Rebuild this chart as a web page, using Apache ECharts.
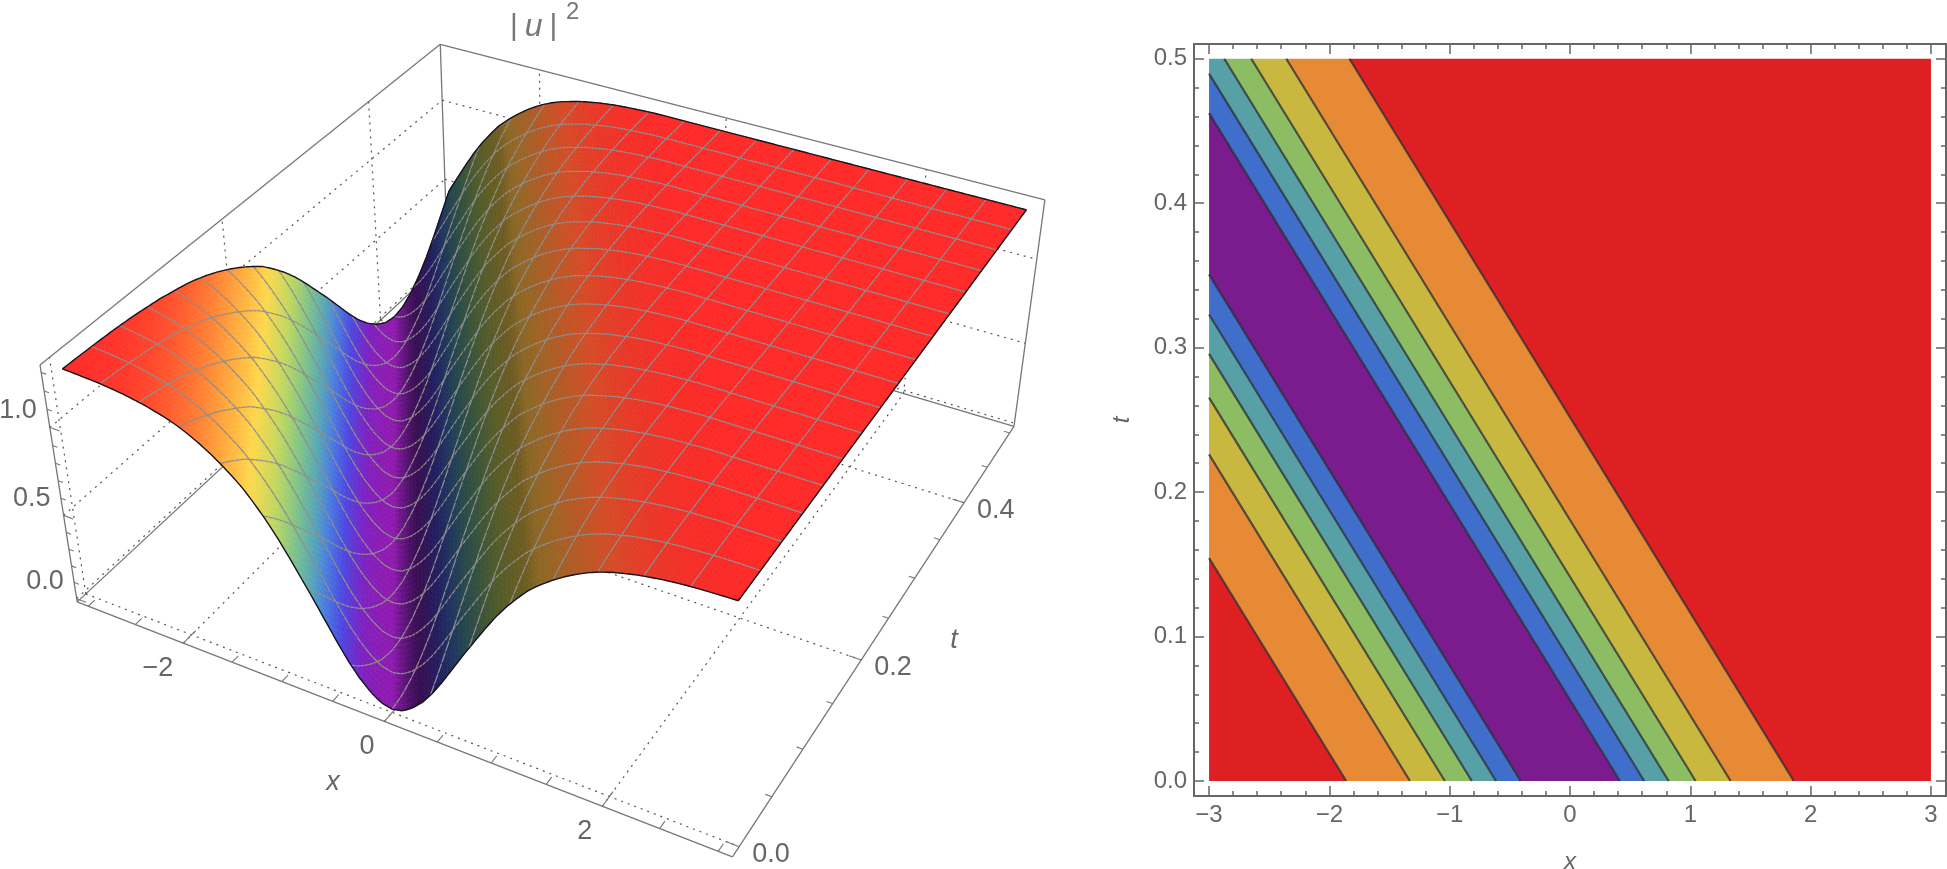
<!DOCTYPE html>
<html><head><meta charset="utf-8">
<style>html,body{margin:0;padding:0;background:#fff}#c{width:1947px;height:869px}</style>
<script src="https://cdn.jsdelivr.net/npm/echarts@6/dist/echarts.min.js"></script>
</head><body><div id="c"></div>
<script>
// ---------- data ----------
// |u|^2 as a function of the travelling coordinate |x + speed*t|
const xiValues=[0,.1,.2,.3,.4,.5,.6,.7,.8,.9,1,1.1,1.2,1.3,1.4,1.5,1.6,1.7,1.8,1.9,2,2.1,2.2,2.3,2.4,2.5,2.6,2.7,2.8,2.9,3,7];
const zValues=[0,.014,.055,.115,.192,.285,.385,.485,.58,.675,.765,.845,.915,.98,1.03,1.075,1.115,1.15,1.18,1.205,1.225,1.24,1.255,1.265,1.275,1.282,1.288,1.292,1.295,1.298,1.3,1.3];
const speed=7.386;
const xMajor=[-2,0,2];
const tMajor=[0,.2,.4];
const zMajor=[0,.5,1];
const xTicks=[-3,-2.5,-2,-1.5,-1,-.5,0,.5,1,1.5,2,2.5,3];
const tTicks=[0,.05,.1,.15,.2,.25,.3,.35,.4,.45,.5];
const zTicks=[0,.1,.2,.3,.4,.5,.6,.7,.8,.9,1,1.1,1.2,1.3];
const colorZ=[0,.1,.25,.4,.5,.65,.8,.95,1.08,1.2,1.3];
const colorHex=['#8f1ab0','#7f20c0','#4c46e2','#4a80de','#55a5b8','#80c488','#c0d860','#ffd84c','#ffa63c','#ff6a30','#ff2a28'];
// contour panel
const contourXi=[-1.86,-1.33,-1.04,-.816,-.615,-.41,.415,.617,.82,1.044,1.335,1.86];
const bandColors=['#df2022','#e68a35','#c8b83f','#8dbd63','#56a0a6','#3f6fcb','#7b1c8e','#3f6fcb','#56a0a6','#8dbd63','#c8b83f','#e68a35','#df2022'];
const xAxisMajor=[-3,-2,-1,0,1,2,3];
const xAxisMinor=[-3,-2.8,-2.6,-2.4,-2.2,-2,-1.8,-1.6,-1.4,-1.2,-1,-.8,-.6,-.4,-.2,0,.2,.4,.6,.8,1,1.2,1.4,1.6,1.8,2,2.2,2.4,2.6,2.8,3];
const tAxisMajor=[0,.1,.2,.3,.4,.5];
const tAxisMinor=[0,.02,.04,.06,.08,.1,.12,.14,.16,.18,.2,.22,.24,.26,.28,.3,.32,.34,.36,.38,.4,.42,.44,.46,.48,.5];
// ---------- box limits and the view of the 3D box ----------
const xLo=-3.12,xHi=3.12,tLo=-.01,tHi=.51,zLo=-.02,zHi=1.34;
const calib=[
 [xLo,tLo,zLo,76.8,601.7],[xLo,tLo,zHi,40.4,365],[xHi,tLo,zLo,732.9,857.3],
 [xHi,tHi,zLo,1015,425.7],[xHi,tHi,zHi,1045,201],[xLo,tHi,zHi,440,43.3],
 [2,.2,zLo,738,618],[2,.4,zLo,849,466.7],[-2,0,zLo,192.9,635],[0,0,zLo,392.9,712.7],[2,0,zLo,609.6,796.7],
 [xLo,tHi,1,442.9,99.3],[xLo,tHi,.5,444.6,181.7],[xHi,tHi,1,1036,260],[xHi,tHi,.5,1026,341.7],[xLo,0,.5,71.4,506.7]];
const nu=(x,t,z)=>[x/3,(t-.25)/.25,(z-.7)/.7];
function solveCamera(){
 const n=11,A=[],b=[];
 calib.forEach(c=>{const [u,v,w]=nu(c[0],c[1],c[2]),X=c[3]/500,Y=c[4]/500;
  A.push([u,v,w,1,0,0,0,0,-X*u,-X*v,-X*w]);b.push(X);
  A.push([0,0,0,0,u,v,w,1,-Y*u,-Y*v,-Y*w]);b.push(Y);});
 const M=[];for(let i=0;i<n;i++){M.push([]);for(let j=0;j<n;j++){let s=0;A.forEach(r=>s+=r[i]*r[j]);M[i].push(s);}let s=0;A.forEach((r,k)=>s+=r[i]*b[k]);M[i].push(s);}
 for(let i=0;i<n;i++){let p=i;for(let k=i+1;k<n;k++)if(Math.abs(M[k][i])>Math.abs(M[p][i]))p=k;[M[i],M[p]]=[M[p],M[i]];
  for(let k=0;k<n;k++){if(k===i)continue;const f=M[k][i]/M[i][i];for(let j=i;j<=n;j++)M[k][j]-=f*M[i][j];}}
 return M.map((r,i)=>r[n]/r[i]);
}
const P=solveCamera();
function proj(x,t,z){const [u,v,w]=nu(x,t,z),d=P[8]*u+P[9]*v+P[10]*w+1;
 return [500*(P[0]*u+P[1]*v+P[2]*w+P[3])/d,500*(P[4]*u+P[5]*v+P[6]*w+P[7])/d];}
function zAt(x,t){const s=Math.abs(x+speed*t);
 for(let k=1;k<xiValues.length;k++)if(s<=xiValues[k]){const f=(s-xiValues[k-1])/(xiValues[k]-xiValues[k-1]);return zValues[k-1]+f*(zValues[k]-zValues[k-1]);}
 return zValues[zValues.length-1];}
const rgb=colorHex.map(h=>[1,3,5].map(i=>parseInt(h.substr(i,2),16)));
function surfaceColor(x,t){
 const z=zAt(x,t),xi=x+speed*t,slope=(zAt(xi+.08,0)-zAt(xi-.08,0))/.16;
 let k=1;while(k<colorZ.length-1&&z>colorZ[k])k++;
 const f=Math.min(1,Math.max(0,(z-colorZ[k-1])/(colorZ[k]-colorZ[k-1])));
 const shade=Math.max(.42,1-.95*Math.max(0,slope));
 const c=[0,1,2].map(i=>Math.round((rgb[k-1][i]+f*(rgb[k][i]-rgb[k-1][i]))*shade));
 return 'rgb('+c+')';}
// ---------- line list for the 3D box ----------
const solid=[],dotted=[],ticks=[];
[[xLo,tLo,zLo,xLo,tLo,zHi],[xLo,tLo,zHi,xLo,tHi,zHi],[xLo,tHi,zHi,xHi,tHi,zHi],[xHi,tHi,zHi,xHi,tHi,zLo],[xHi,tHi,zLo,xHi,tLo,zLo],[xHi,tLo,zLo,xLo,tLo,zLo],[xLo,tLo,zLo,xLo,tHi,zLo],[xLo,tHi,zLo,xHi,tHi,zLo],[xLo,tHi,zLo,xLo,tHi,zHi]].forEach(s=>solid.push(s));
xMajor.forEach(x=>dotted.push([x,tLo,zLo,x,tHi,zLo]));
tMajor.forEach(t=>dotted.push([xLo,t,zLo,xHi,t,zLo]));
zMajor.forEach(z=>{dotted.push([xLo,tLo,z,xLo,tHi,z]);dotted.push([xLo,tHi,z,xHi,tHi,z]);});
tMajor.forEach(t=>dotted.push([xLo,t,zLo,xLo,t,zHi]));
xMajor.forEach(x=>dotted.push([x,tHi,zLo,x,tHi,zHi]));
xTicks.forEach(x=>{const L=xMajor.includes(x)?.015:.0075;ticks.push([x,tLo,zLo,x,tLo+L,zLo]);});
tTicks.forEach(t=>{const L=tMajor.includes(t)?.11:.055;ticks.push([xHi,t,zLo,xHi-L,t,zLo]);});
zTicks.forEach(z=>{const L=zMajor.includes(z)?.1:.05;ticks.push([xLo,tLo,z,xLo+L,tLo,z]);});
const gridLines=[...solid.map(s=>[0,...s]),...dotted.map(s=>[1,...s]),...ticks.map(s=>[2,...s])];
const lineStyles=[{stroke:'#777',lineWidth:1.3},{stroke:'#555',lineWidth:1.2,lineDash:[2,5]},{stroke:'#777',lineWidth:1.1}];
// labels of the 3D box
const labels3d=[];
xMajor.forEach(x=>labels3d.push([String(x).replace('-','−'),proj(x,tLo,zLo),-10,25,'right']));
tMajor.forEach(t=>labels3d.push([t.toFixed(1),proj(xHi,t,zLo),13,8,'left']));
zMajor.forEach(z=>labels3d.push([z.toFixed(1),proj(xLo,tLo,z),-13,-17,'right']));
const axisNames3d=[['x',[333,782]],['t',[954,640]]];
// surface cells
const nx=160,nt=96,meshX=10,meshT=6;
const cellData=[];
for(let j=nt-1;j>=0;j--)for(let i=0;i<nx;i++)cellData.push([i,j]);
const X=i=>-3+6*i/nx,T=j=>.5*j/nt;
const edgeSteps=[];for(let i=0;i<=200;i++)edgeSteps.push(i/200);
const PLOT_W=1100,PLOT_H=869,FF='"Liberation Sans",Arial,sans-serif';
const axStyle={lineStyle:{color:'#666',width:2}};
function frameAxis(kind,pos,grid,values,len,showLabel,range,fmt){
 return Object.assign({type:'value',gridIndex:grid,position:pos,min:range[0],max:range[1],splitLine:{show:false},
  axisLine:Object.assign({show:true,onZero:false},axStyle),
  axisTick:{show:true,inside:true,length:len,lineStyle:{color:'#666',width:1.5},customValues:values},
  axisLabel:showLabel?{show:true,customValues:values,color:'#666',fontSize:24,fontFamily:FF,margin:7,formatter:fmt,hideOverlap:false,showMinLabel:true,showMaxLabel:true}:{show:false}});
}
const xr=[-3.125,3.125],tr=[-.0104,.5102];
const xf=v=>String(v).replace('-','−'),tf=v=>Number(v).toFixed(1);
const chart=echarts.init(document.getElementById('c'),null,{renderer:'canvas'});
chart.setOption({
 animation:false,backgroundColor:'#fff',
 title:[{left:510,top:11,padding:0,text:'{a||}{b|u}{a||}',textStyle:{fontWeight:'normal',rich:{
   a:{fontSize:30,color:'#777',fontWeight:'normal',fontFamily:FF},
   b:{fontSize:32,color:'#777',fontStyle:'italic',fontWeight:'normal',fontFamily:FF,padding:[0,7,0,7]}}}},
  {left:566,top:0,padding:0,text:'2',textStyle:{fontSize:24,color:'#777',fontWeight:'normal',fontFamily:FF}}],
 grid:[{left:0,top:0,width:PLOT_W,height:PLOT_H,show:false,outerBoundsMode:'none'},{left:1194,top:44,width:752,height:752,show:false,outerBoundsMode:'none'}],
 xAxis:[
  {type:'value',gridIndex:0,min:0,max:PLOT_W,show:false},
  Object.assign(frameAxis('x','bottom',1,xAxisMajor,10,true,xr,xf),{name:'x',nameLocation:'middle',nameGap:54,nameTextStyle:{color:'#666',fontSize:24,fontStyle:'italic',fontFamily:FF}}),
  frameAxis('x','bottom',1,xAxisMinor,5,false,xr),
  frameAxis('x','top',1,xAxisMajor,10,false,xr),
  frameAxis('x','top',1,xAxisMinor,5,false,xr)],
 yAxis:[
  {type:'value',gridIndex:0,min:0,max:PLOT_H,inverse:true,show:false},
  Object.assign(frameAxis('y','left',1,tAxisMajor,10,true,tr,tf),{name:'t',nameLocation:'middle',nameGap:60,nameRotate:90,nameTextStyle:{color:'#666',fontSize:24,fontStyle:'italic',fontFamily:FF}}),
  frameAxis('y','left',1,tAxisMinor,5,false,tr),
  frameAxis('y','right',1,tAxisMajor,10,false,tr),
  frameAxis('y','right',1,tAxisMinor,5,false,tr)],
 series:[
  {type:'custom',xAxisIndex:0,yAxisIndex:0,silent:true,progressive:0,data:gridLines.map((s,i)=>[i,0]),
   renderItem(p,api){const s=gridLines[p.dataIndex],a=api.coord(proj(s[1],s[2],s[3])),b=api.coord(proj(s[4],s[5],s[6]));
    return {type:'line',shape:{x1:a[0],y1:a[1],x2:b[0],y2:b[1]},style:lineStyles[s[0]]};}},
  {type:'custom',xAxisIndex:0,yAxisIndex:0,silent:true,progressive:0,data:cellData,
   renderItem(p,api){
    const i=api.value(0),j=api.value(1),x0=X(i),x1=X(i+1),t0=T(j),t1=T(j+1);
    const q=[[x0,t0],[x1,t0],[x1,t1],[x0,t1]].map(c=>api.coord(proj(c[0],c[1],zAt(c[0],c[1]))));
    const col=surfaceColor((x0+x1)/2,(t0+t1)/2);
    const kids=[{type:'polygon',shape:{points:q},style:{fill:col,stroke:col,lineWidth:.7}}];
    const mesh={stroke:'#8f8f8f',lineWidth:1.3};
    if(i%meshX===0&&i>0)kids.push({type:'line',shape:{x1:q[0][0],y1:q[0][1],x2:q[3][0],y2:q[3][1]},style:mesh});
    if((j+1)%meshT===0&&j+1<nt)kids.push({type:'line',shape:{x1:q[2][0],y1:q[2][1],x2:q[3][0],y2:q[3][1]},style:mesh});
    return {type:'group',children:kids};}},
  {type:'custom',xAxisIndex:0,yAxisIndex:0,silent:true,progressive:0,data:[[0,0],[1,0],[2,0],[3,0]],
   renderItem(p,api){const k=p.dataIndex;
    const pts=edgeSteps.map(f=>{const x=k===0?-3:k===1?3:-3+6*f,t=k===2?0:k===3?.5:.5*f;return api.coord(proj(x,t,zAt(x,t)));});
    return {type:'polyline',shape:{points:pts},style:{stroke:'#15151f',lineWidth:1.4,fill:null}};}},
  {type:'custom',xAxisIndex:0,yAxisIndex:0,silent:true,data:labels3d.map((l,i)=>[i,0]),
   renderItem(p,api){const l=labels3d[p.dataIndex],c=api.coord(l[1]);
    return {type:'text',x:c[0]+l[2],y:c[1]+l[3],style:{text:l[0],fontSize:27,fontFamily:FF,fill:'#666',align:l[4],verticalAlign:'middle'}};}},
  {type:'custom',xAxisIndex:0,yAxisIndex:0,silent:true,data:axisNames3d.map((l,i)=>[i,0]),
   renderItem(p,api){const l=axisNames3d[p.dataIndex],c=api.coord(l[1]);
    return {type:'text',x:c[0],y:c[1],style:{text:l[0],fontSize:27,fontStyle:'italic',fontFamily:FF,fill:'#666',align:'center',verticalAlign:'middle'}};}},
  {type:'custom',xAxisIndex:1,yAxisIndex:1,silent:true,data:bandColors.map((c,i)=>[i,0]),
   renderItem(p,api){const k=p.dataIndex,a=k===0?-30:contourXi[k-1],b=k===contourXi.length?30:contourXi[k];
    const poly=clipX([[a,0],[a-speed*.5,.5],[b-speed*.5,.5],[b,0]]).map(c=>api.coord(c));
    return {type:'polygon',shape:{points:poly},style:{fill:bandColors[k]}};}},
  {type:'custom',xAxisIndex:1,yAxisIndex:1,silent:true,data:contourXi.map((c,i)=>[i,0]),
   renderItem(p,api){const s=contourXi[p.dataIndex],t1=Math.max(0,(s-3)/speed),t2=Math.min(.5,(s+3)/speed);
    const a=api.coord([s-speed*t1,t1]),b=api.coord([s-speed*t2,t2]);
    return {type:'line',shape:{x1:a[0],y1:a[1],x2:b[0],y2:b[1]},style:{stroke:'rgba(40,40,50,.75)',lineWidth:2.2}};}}
 ]
});
function clipX(poly){
 const cut=(pts,inside,hit)=>{const out=[];pts.forEach((c,i)=>{const d=pts[(i+1)%pts.length];if(inside(c))out.push(c);if(inside(c)!==inside(d))out.push(hit(c,d));});return out;};
 const at=v=>(c,d)=>{const f=(v-c[0])/(d[0]-c[0]);return [v,c[1]+f*(d[1]-c[1])];};
 return cut(cut(poly,c=>c[0]>=-3,at(-3)),c=>c[0]<=3,at(3));
}
</script></body></html>
